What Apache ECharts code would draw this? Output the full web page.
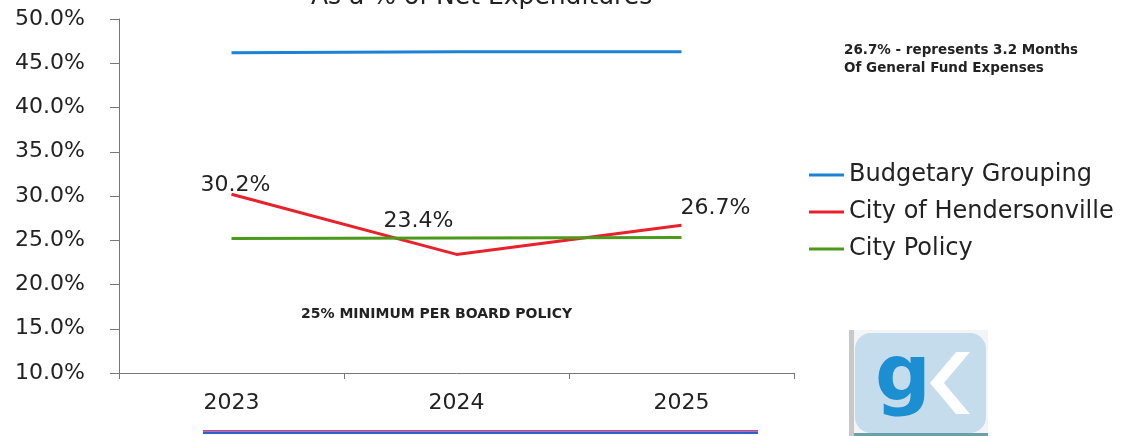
<!DOCTYPE html>
<html>
<head>
<meta charset="utf-8">
<script src="https://cdn.jsdelivr.net/npm/echarts@6/dist/echarts.min.js"></script>
<style>
  html, body { margin: 0; padding: 0; background: #ffffff; }
  #chart { width: 1136px; height: 436px; }
</style>
</head>
<body>
<div id="chart"></div>
<script>
// Fund balance as a percentage of net expenditures
const years = ['2023', '2024', '2025'];
const budgetaryGrouping = [46.2, 46.3, 46.3];
const cityOfHendersonville = [30.2, 23.4, 26.7];
const cityPolicy = [25.2, 25.25, 25.3];
const seriesNames = ['Budgetary Grouping', 'City of Hendersonville', 'City Policy'];
const yTicks = { min: 10, max: 50, step: 5 };

const axisFont = '"DejaVu Sans", sans-serif';

const COLORS = ['#1c82d6', '#e8212b', '#4c9a1c'];

// label offsets for the City of Hendersonville values
const redLabelOffsets = [[4, 6], [-38, -18], [34, -2]];

const chart = echarts.init(document.getElementById('chart'), null, { renderer: 'canvas' });

const option = {
  backgroundColor: '#ffffff',
  animation: false,
  title: {
    text: 'As a % of Net Expenditures',
    left: 306,
    top: -20,
    textStyle: { fontFamily: axisFont, fontSize: 25, fontWeight: 'normal', color: '#222' }
  },
  legend: {
    orient: 'vertical',
    left: 804,
    top: 158,
    itemWidth: 35,
    itemHeight: 3,
    itemGap: 13,
    icon: 'rect',
    data: seriesNames,
    textStyle: { fontFamily: axisFont, fontSize: 24, color: '#222', padding: [0, 0, 6, 0] }
  },
  grid: { left: 119, right: 342, top: 19, bottom: 63, containLabel: false },
  xAxis: {
    type: 'category',
    data: years,
    boundaryGap: true,
    axisLine: { lineStyle: { color: '#777', width: 1 } },
    axisTick: { show: true, length: 6, lineStyle: { color: '#777' } },
    axisLabel: { fontFamily: axisFont, fontSize: 22, color: '#222', margin: 19 }
  },
  yAxis: {
    type: 'value',
    min: yTicks.min,
    max: yTicks.max,
    interval: yTicks.step,
    splitLine: { show: false },
    axisLine: { show: true, lineStyle: { color: '#777', width: 1 } },
    axisTick: { show: true, length: 9, lineStyle: { color: '#777' } },
    axisLabel: {
      fontFamily: axisFont, fontSize: 22, color: '#222', margin: 34,
      formatter: v => v.toFixed(1) + '%'
    }
  },
  series: [
    {
      name: seriesNames[0],
      type: 'line',
      data: budgetaryGrouping,
      symbol: 'none',
      lineStyle: { color: COLORS[0], width: 3 },
      itemStyle: { color: COLORS[0] }
    },
    {
      name: seriesNames[1],
      type: 'line',
      data: cityOfHendersonville.map((v, i) => ({
        value: v,
        label: { offset: redLabelOffsets[i] }
      })),
      symbol: 'circle',
      symbolSize: 0,
      showSymbol: true,
      lineStyle: { color: COLORS[1], width: 3 },
      itemStyle: { color: COLORS[1] },
      label: {
        show: true,
        position: 'top',
        distance: 4,
        fontFamily: axisFont,
        fontSize: 22,
        color: '#222',
        formatter: p => p.value.toFixed(1) + '%'
      }
    },
    {
      name: seriesNames[2],
      type: 'line',
      data: cityPolicy,
      symbol: 'none',
      lineStyle: { color: COLORS[2], width: 3 },
      itemStyle: { color: COLORS[2] }
    }
  ],
  graphic: [
    {
      type: 'text',
      left: 844,
      top: 41,
      style: {
        text: '26.7% - represents 3.2 Months\nOf General Fund Expenses',
        font: 'bold 13.5px "DejaVu Sans", sans-serif',
        fill: '#222',
        lineHeight: 18
      }
    },
    {
      type: 'text',
      left: 301,
      top: 307,
      style: {
        text: '25% MINIMUM PER BOARD POLICY',
        font: 'bold 14px "DejaVu Sans", sans-serif',
        fill: '#222'
      }
    },
    // footer rule
    {
      type: 'rect',
      shape: { x: 203, y: 430, width: 555, height: 1.5 },
      style: { fill: '#d0408a' }
    },
    {
      type: 'rect',
      shape: { x: 203, y: 431.5, width: 555, height: 2.5 },
      style: { fill: '#2f5fc8' }
    },
    // gk badge
    {
      type: 'group',
      children: [
        { type: 'rect', shape: { x: 849, y: 330, width: 5, height: 106 }, style: { fill: '#c8c8c8' } },
        { type: 'rect', shape: { x: 854, y: 330, width: 134, height: 106 }, style: { fill: '#f2f4f6' } },
        { type: 'rect', shape: { x: 855, y: 333, width: 131, height: 100, r: 16 }, style: { fill: '#c4dcec' } },
        {
          type: 'text',
          style: {
            x: 903, y: 380,
            text: 'g',
            font: 'bold 78px "DejaVu Sans", sans-serif',
            fill: '#1b8fd2',
            align: 'center',
            verticalAlign: 'middle'
          }
        },
        {
          type: 'polygon',
          shape: { points: [[930, 383], [956, 352], [970, 352], [944, 383], [970, 414], [956, 414]] },
          style: { fill: '#ffffff' }
        },
        { type: 'rect', shape: { x: 854, y: 433, width: 134, height: 3 }, style: { fill: '#6aa0a8' } }
      ]
    }
  ]
};

chart.setOption(option);
</script>
</body>
</html>
